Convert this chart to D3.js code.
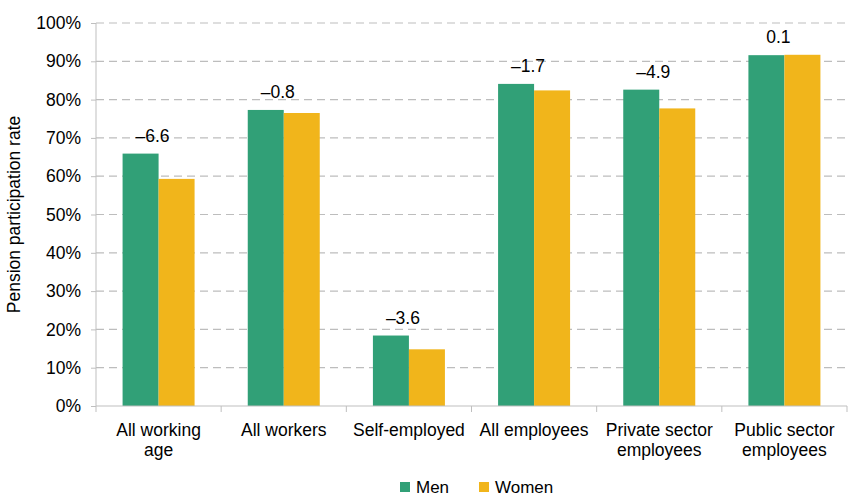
<!DOCTYPE html>
<html>
<head>
<meta charset="utf-8">
<script src="https://cdn.jsdelivr.net/npm/d3@7"></script>
<style>
  body { margin: 0; background: #fff; }
  text { font-family: "Liberation Sans", Arial, sans-serif; fill: #000; }
</style>
</head>
<body>
<svg width="848" height="502"></svg>
<script>
var categories = [["All working", "age"], ["All workers"], ["Self-employed"], ["All employees"], ["Private sector", "employees"], ["Public sector", "employees"]];
var men = [65.9, 77.3, 18.4, 84.1, 82.6, 91.6];
var women = [59.3, 76.5, 14.8, 82.4, 77.7, 91.7];
var gaps = ["\u20136.6", "\u20130.8", "\u20133.6", "\u20131.7", "\u20134.9", "0.1"];
var series = ["Men", "Women"];
var yTicks = [0, 10, 20, 30, 40, 50, 60, 70, 80, 90, 100];

var colors = { Men: "#31a077", Women: "#f1b51b" };
var fs = "17.5px";

var svg = d3.select("svg"),
    margin = {top: 23, right: 1, bottom: 96, left: 96},
    width = +svg.attr("width") - margin.left - margin.right,
    height = +svg.attr("height") - margin.top - margin.bottom,
    g = svg.append("g").attr("transform", "translate(" + margin.left + "," + margin.top + ")");

var data = categories.map(function(c, i) {
  return { key: i, label: c, Men: men[i], Women: women[i], gap: gaps[i] };
});

var x0 = d3.scaleBand()
    .domain(data.map(function(d) { return d.key; }))
    .range([0, width]);

var bw = x0.bandwidth();
var x1 = d3.scaleBand()
    .domain(series)
    .range([bw / 2 - 36, bw / 2 + 36]);

var y = d3.scaleLinear()
    .domain([0, 100])
    .range([height, 0]);

// gridlines
g.append("g")
  .selectAll("line")
  .data(yTicks.slice(1))
  .enter().append("line")
    .attr("x1", 0)
    .attr("x2", width)
    .attr("y1", function(d) { return y(d); })
    .attr("y2", function(d) { return y(d); })
    .attr("stroke", "#bdbdbd")
    .attr("stroke-width", 1.2)
    .attr("stroke-dasharray", "8,5");

// bars
var groups = g.append("g")
  .selectAll("g")
  .data(data)
  .enter().append("g")
    .attr("transform", function(d) { return "translate(" + x0(d.key) + ",0)"; });

groups.selectAll("rect")
  .data(function(d) { return series.map(function(s) { return { s: s, v: d[s] }; }); })
  .enter().append("rect")
    .attr("x", function(d) { return x1(d.s); })
    .attr("width", x1.bandwidth())
    .attr("y", function(d) { return y(d.v); })
    .attr("height", function(d) { return height - y(d.v); })
    .attr("fill", function(d) { return colors[d.s]; });

// gap labels
groups.append("text")
    .attr("x", bw / 2 - 6)
    .attr("y", function(d) { return y(Math.max(d.Men, d.Women)) - 12; })
    .attr("text-anchor", "middle")
    .style("font-size", fs)
    .text(function(d) { return d.gap; });

// y axis
var yAxis = g.append("g")
    .call(d3.axisLeft(y).tickValues(yTicks).tickSize(5).tickPadding(10)
      .tickFormat(function(d) { return d + "%"; }));
yAxis.selectAll("path, line").attr("stroke", "#bfbfbf");
yAxis.select(".domain").attr("d", "M0," + height + "V0");
yAxis.selectAll("text")
    .style("font-size", fs)
    .style("font-family", "'Liberation Sans', Arial, sans-serif");

// x axis
var xAxis = g.append("g")
    .attr("transform", "translate(0," + height + ")");
xAxis.append("line")
    .attr("x1", 0).attr("x2", width)
    .attr("stroke", "#bfbfbf");
xAxis.selectAll(".tick")
  .data(d3.range(data.length + 1))
  .enter().append("line")
    .attr("x1", function(i) { return i * bw; })
    .attr("x2", function(i) { return i * bw; })
    .attr("y1", 0).attr("y2", 6)
    .attr("stroke", "#bfbfbf");

xAxis.selectAll(".cat")
  .data(data)
  .enter().append("text")
    .attr("class", "cat")
    .attr("text-anchor", "middle")
    .attr("transform", function(d) { return "translate(" + (x0(d.key) + bw / 2) + ",0)"; })
    .style("font-size", fs)
    .selectAll("tspan")
    .data(function(d) { return d.label; })
    .enter().append("tspan")
      .attr("x", 0)
      .attr("y", function(d, i) { return 30 + i * 20; })
      .text(function(d) { return d; });

// y title
svg.append("text")
    .attr("transform", "translate(20," + (margin.top + height / 2) + ") rotate(-90)")
    .attr("text-anchor", "middle")
    .style("font-size", fs)
    .text("Pension participation rate");

// legend
var legend = svg.append("g").attr("transform", "translate(400,482)");
var lx = [0, 79];
series.forEach(function(s, i) {
  legend.append("rect")
      .attr("x", lx[i]).attr("y", 0)
      .attr("width", 10).attr("height", 10)
      .attr("fill", colors[s]);
  legend.append("text")
      .attr("x", lx[i] + 16).attr("y", 11)
      .style("font-size", "17px")
      .text(s);
});
</script>
</body>
</html>
